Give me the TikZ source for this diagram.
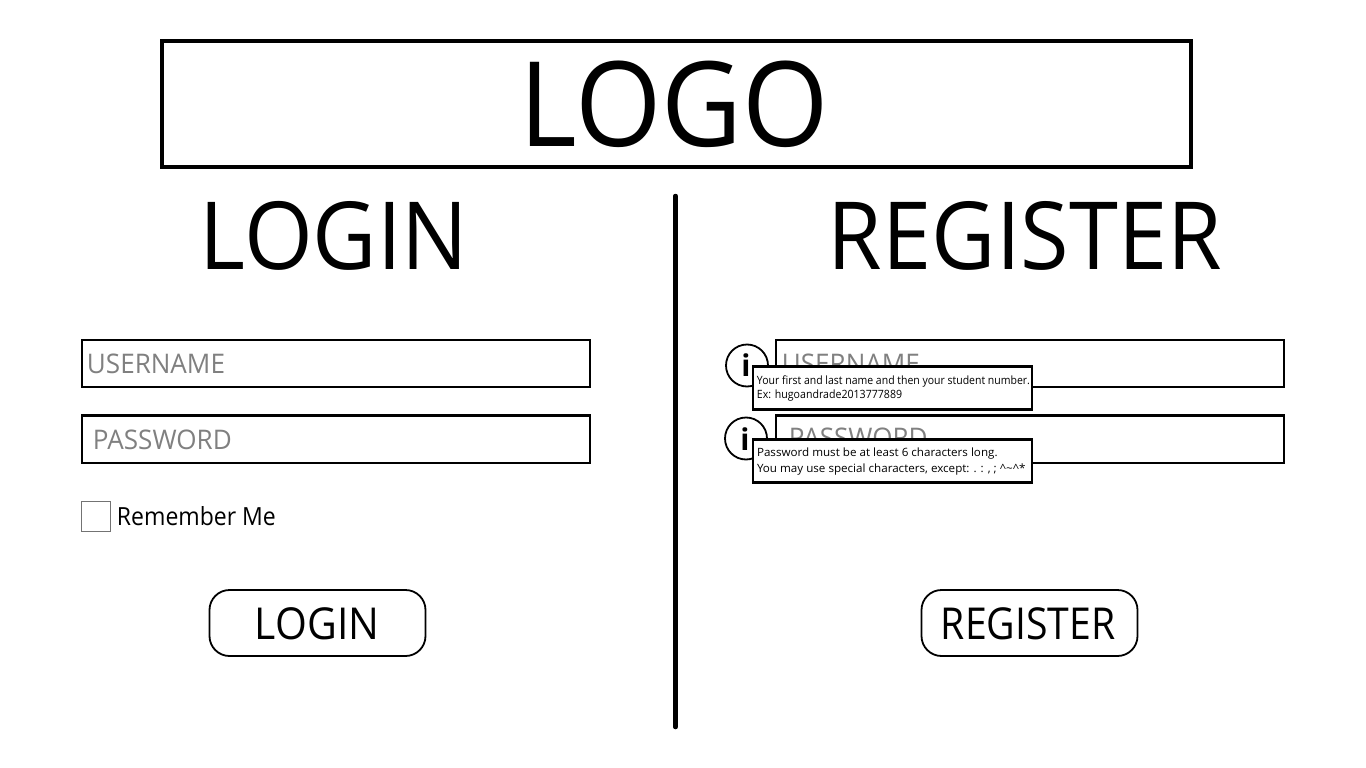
\documentclass[tikz,border=0pt]{standalone}
\usepackage{fontspec}
\setmainfont{Open Sans}
\newcommand{\fs}[1]{\fontsize{#1}{#1}\selectfont}
\begin{document}
\begin{tikzpicture}[x=1pt,y=-1pt,
  txt/.style={inner sep=0pt,outer sep=0pt,anchor=base west,text=black,transform shape},
  ph/.style={txt,text=black!50},
  field/.style={draw=black,line width=2.4pt,fill=white,inner sep=0pt,outer sep=0pt},
  tip/.style={draw=black,line width=2.6pt,fill=white,inner sep=0pt,outer sep=0pt,minimum width=279pt,minimum height=43.5pt},
  btn/.style={draw=black,line width=1.8pt,fill=white,rounded corners=20pt,inner sep=0pt,minimum width=216pt,minimum height=66pt},
  infoc/.style={circle,draw=black,line width=1.8pt,fill=white,minimum size=42pt,inner sep=0pt}
]
\useasboundingbox (0,0) rectangle (1366,768);
\fill[white] (0,0) rectangle (1366,768);
% logo
\node[draw=black,line width=4pt,inner sep=0pt,minimum width=1029pt,minimum height=126pt] (logobox) at (676,104) {};
\begin{scope}[xscale=.94]
\node[txt,font=\fs{118}] (logo) at (520/.94,146) {LOGO};
\end{scope}
% divider
\coordinate (divtop) at (675.5,196);
\coordinate (divbot) at (675.5,727);
\draw[line width=4.5pt,line cap=round] (divtop) -- (divbot);
% headings
\begin{scope}[xscale=.94]
\node[txt,font=\fs{94}] (loginh) at (200/.94,269) {LOGIN};
\node[txt,font=\fs{94}] (regh) at (828/.94,269) {REGISTER};
\end{scope}
% login form
\node[field,minimum width=508pt,minimum height=47pt] (lu) at (336,363.5) {};
\node[field,minimum width=508pt,minimum height=47.5pt] (lp) at (336,439.2) {};
\begin{scope}[xscale=.965]
\node[ph,font=\fs{27}] (lut) at (87/.965,373) {USERNAME};
\node[ph,font=\fs{27}] (lpt) at (93/.965,449) {PASSWORD};
\end{scope}
\begin{scope}[xscale=.92]
\node[txt,font=\fs{25}] (rem) at (117/.92,525) {Remember Me};
\end{scope}
\node[draw=black!55,line width=1.2pt,inner sep=0pt,minimum size=29.5pt] (chk) at (96,516.5) {};
\node[btn] (lb) at (317.5,623) {};
\node[btn] (rb) at (1029.5,623) {};
\begin{scope}[xscale=.93]
\node[txt,font=\fs{44}] (lbt) at (255/.93,639) {LOGIN};
\end{scope}
\begin{scope}[xscale=.89]
\node[txt,font=\fs{44}] (rbt) at (941/.89,639) {REGISTER};
\end{scope}
% register form
\node[field,minimum width=508pt,minimum height=47pt] (ru) at (1030,363.5) {};
\node[field,minimum width=508pt,minimum height=47.5pt] (rp) at (1030,439.2) {};
\begin{scope}[xscale=.965]
\node[ph,font=\fs{27}] (rut) at (782/.965,373) {USERNAME};
\node[ph,font=\fs{27}] (rpt) at (789/.965,447) {PASSWORD};
\end{scope}
\node[infoc] (ic1) at (747,365.5) {};
\node[infoc] (ic2) at (746,438.5) {};
\node[txt,font=\fs{30}\bfseries,anchor=base] (i1) at (746,376) {i};
\node[txt,font=\fs{30}\bfseries,anchor=base] (i2) at (745,450.5) {i};
% tooltips
\node[tip] (t1) at (892.5,388) {};
\node[tip] (t2) at (892.5,461) {};
\begin{scope}[xscale=.92]
\node[txt,font=\fs{11.4}] (t1a) at (757/.92,384) {Your first and last name and then your student number.};
\end{scope}
\begin{scope}[xscale=.93]
\node[txt,font=\fs{11.4}] (t1b) at (757/.93,398) {Ex: hugoandrade2013777889};
\end{scope}
\begin{scope}[xscale=1.02]
\node[txt,font=\fs{11.4}] (t2a) at (757/1.02,456.5) {Password must be at least 6 characters long.};
\node[txt,font=\fs{11.4}] (t2b) at (757/1.02,472.5) {You may use special characters, except: . : , ; \^{}\textasciitilde\^{}*};
\end{scope}
\end{tikzpicture}
\end{document}
